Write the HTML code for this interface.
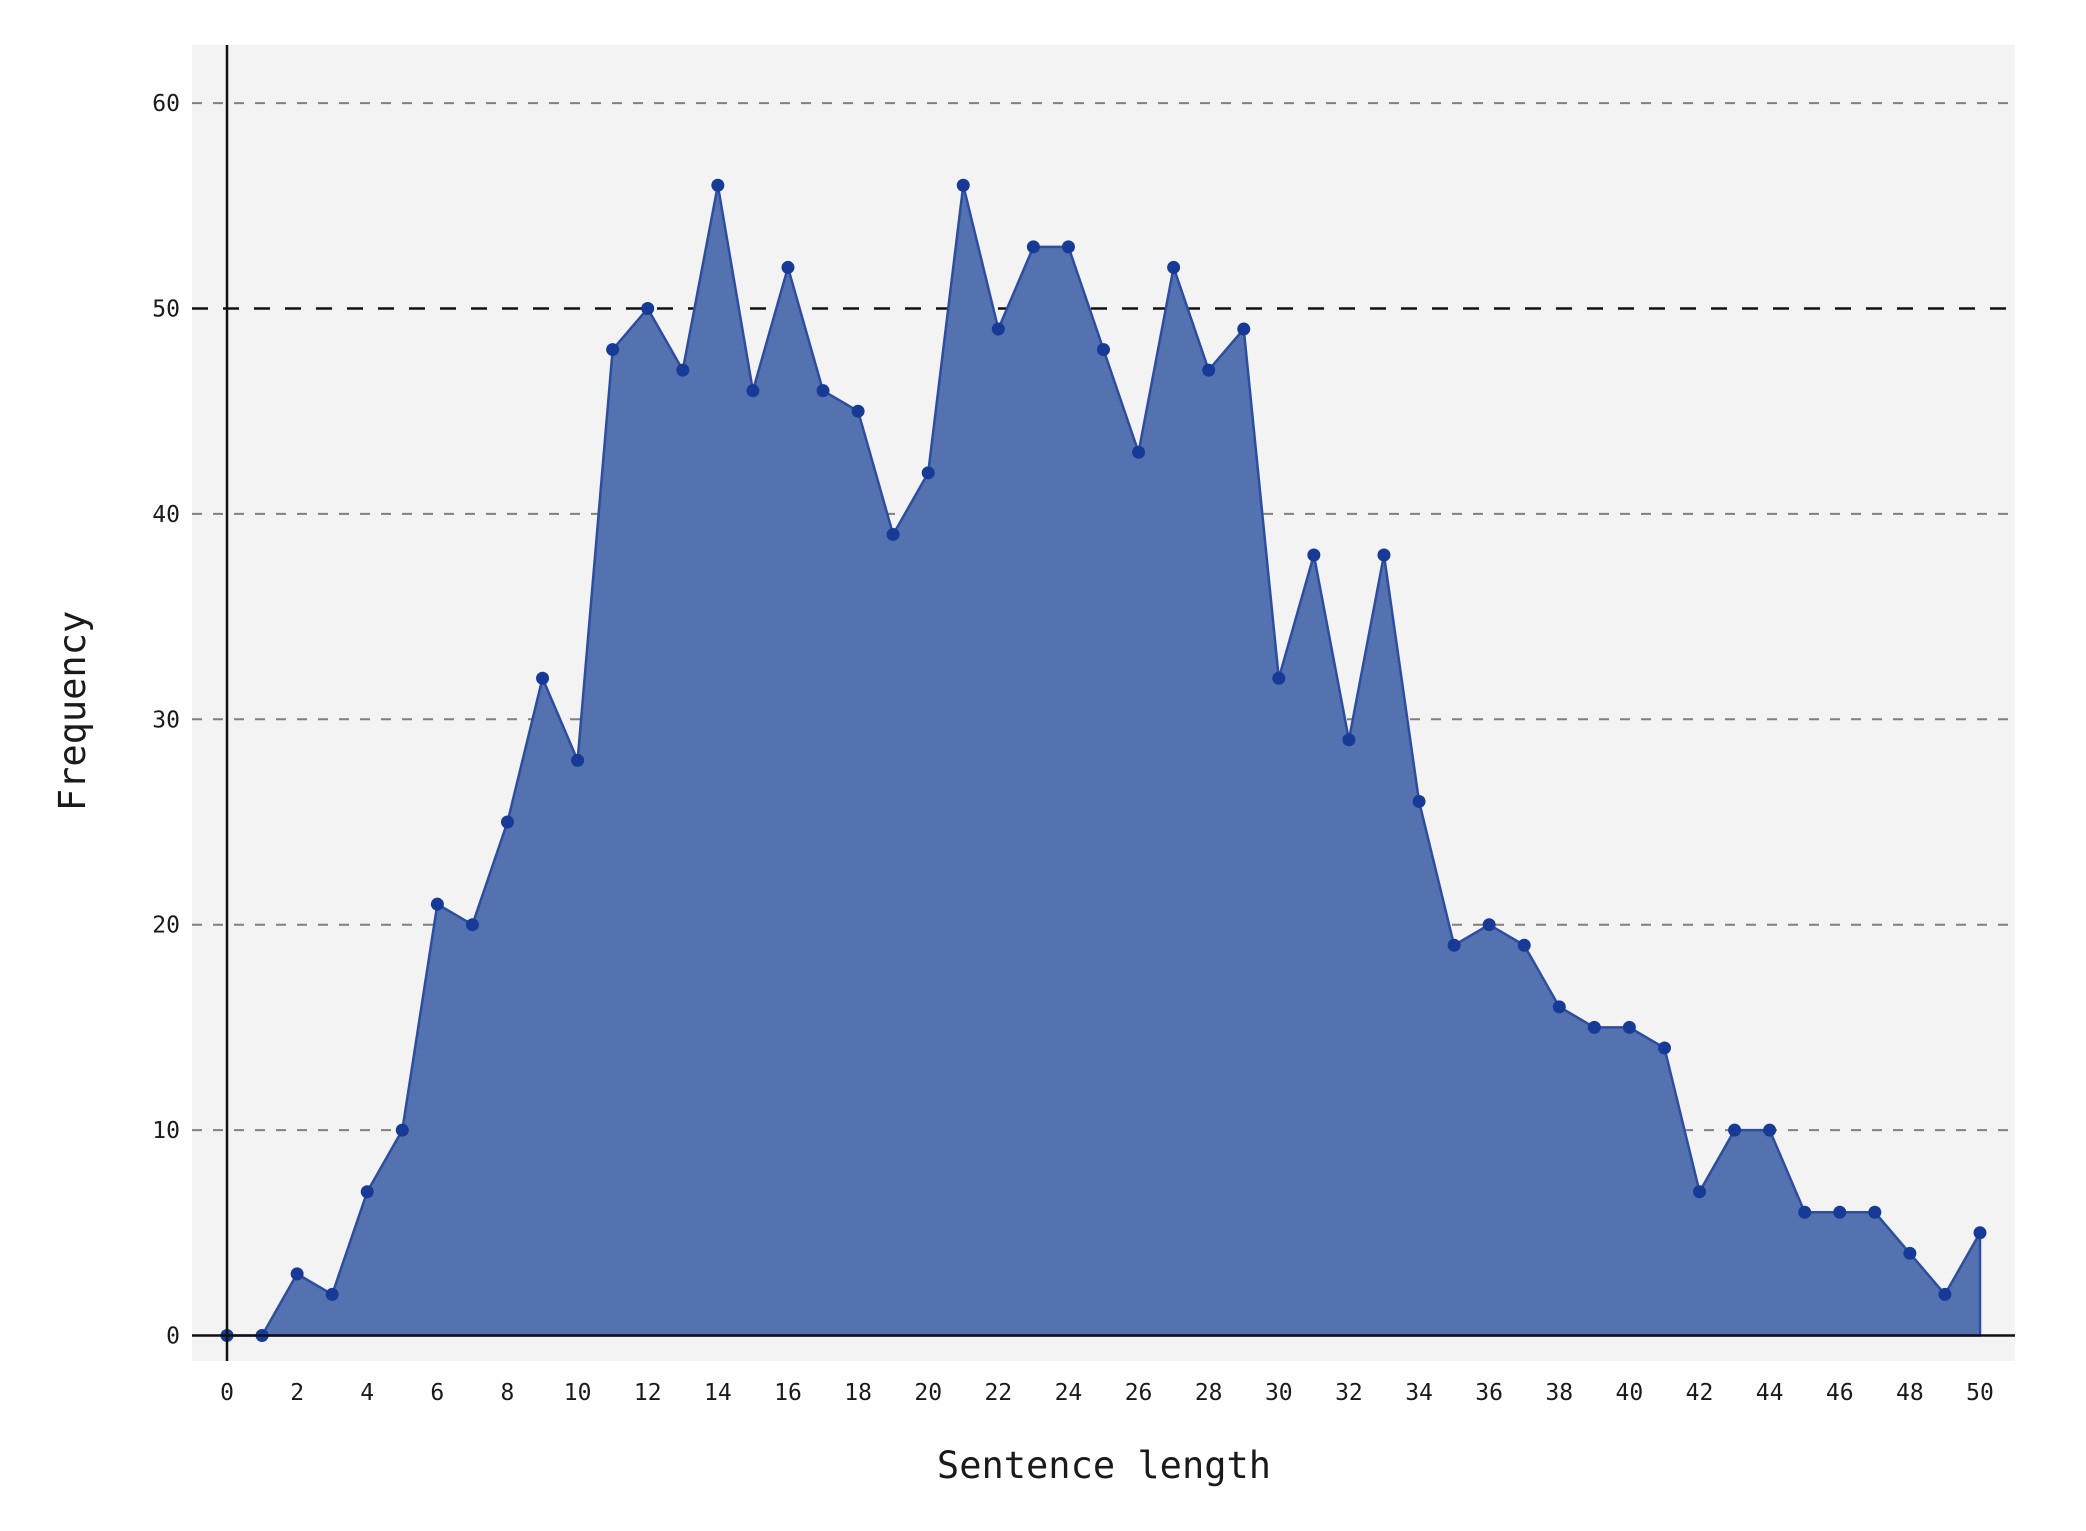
<!DOCTYPE html>
<html><head><meta charset="utf-8"><style>
html,body{margin:0;padding:0;background:#fff;}
svg text{font-family:"DejaVu Sans Mono","Liberation Mono",monospace;fill:#1a1a1a;}
</style></head><body>
<svg id="chart" width="2086" height="1526" xmlns="http://www.w3.org/2000/svg">
<rect x="192" y="45" width="1823" height="1316" fill="#f3f3f3"/>
<g id="grid"></g>
<g id="area"></g>
<g id="axes"></g>
<g id="ticks"></g>
<text transform="translate(85,711) rotate(-90)" text-anchor="middle" font-size="37">Frequency</text>
<text x="1104" y="1478" text-anchor="middle" font-size="37">Sentence length</text>
</svg>
<script>
const lengths = [0,1,2,3,4,5,6,7,8,9,10,11,12,13,14,15,16,17,18,19,20,21,22,23,24,25,26,27,28,29,30,31,32,33,34,35,36,37,38,39,40,41,42,43,44,45,46,47,48,49,50];
const frequencies = [0,0,3,2,7,10,21,20,25,32,28,48,50,47,56,46,52,46,45,39,42,56,49,53,53,48,43,52,47,49,32,38,29,38,26,19,20,19,16,15,15,14,7,10,10,6,6,6,4,2,5];
const yTicks = [0,10,20,30,40,50,60];
const xTicks = [0,2,4,6,8,10,12,14,16,18,20,22,24,26,28,30,32,34,36,38,40,42,44,46,48,50];
const referenceLine = 50;

const NS = "http://www.w3.org/2000/svg";
const X = v => 227 + v * (1980 - 227) / 50;
const Y = v => 1335.5 - v * 20.54;
function mk(tag, attrs, parent){const e=document.createElementNS(NS,tag);for(const k in attrs)e.setAttribute(k,attrs[k]);parent.appendChild(e);return e;}
const grid=document.getElementById('grid'), area=document.getElementById('area'), axes=document.getElementById('axes'), ticks=document.getElementById('ticks');

yTicks.forEach(t=>{
  if(t>0){
    const l=mk('line',{x1:192,x2:2015,y1:Y(t),y2:Y(t),stroke:t===referenceLine?'#111':'#808080','stroke-width':t===referenceLine?2.6:2,'stroke-dasharray':t===referenceLine?'16,15':'10,11'},grid);
    
    
  }
  const tx=mk('text',{x:180,y:Y(t)+8,'text-anchor':'end','font-size':23},ticks);
  tx.textContent=t;
  
  
});
xTicks.forEach(t=>{
  const tx=mk('text',{x:X(t),y:1418-18,'text-anchor':'middle','font-size':23},ticks);
  tx.textContent=t;
  
  
});

let d='M'+X(lengths[0])+','+Y(0);
lengths.forEach((x,i)=>{d+=' L'+X(x)+','+Y(frequencies[i]);});
d+=' L'+X(lengths[lengths.length-1])+','+Y(0)+' Z';
const fill=mk('path',{d:d,fill:'#5472b0',stroke:'#2d4d9f','stroke-width':2.5,'stroke-linejoin':'miter'},area);


lengths.forEach((x,i)=>{
  const c=mk('circle',{cx:X(x),cy:Y(frequencies[i]),r:6.5,fill:'#163a95'},area);
  
  
});

const va=mk('line',{x1:X(0),x2:X(0),y1:45,y2:1361,stroke:'#111','stroke-width':2.5},axes);


const ha=mk('line',{x1:192,x2:2015,y1:Y(0),y2:Y(0),stroke:'#111','stroke-width':2.5},axes);


</script>
</body></html>
